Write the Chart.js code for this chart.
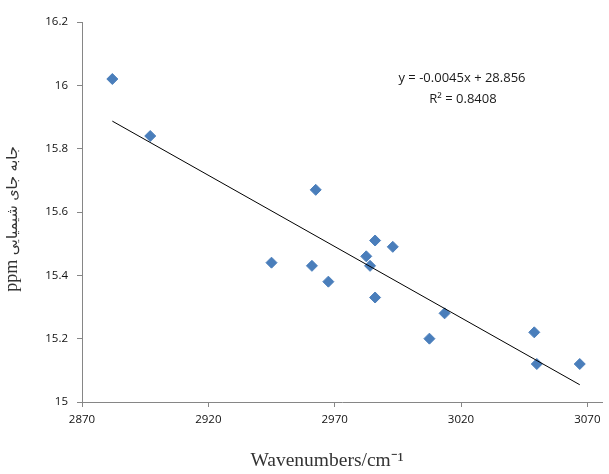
<!DOCTYPE html>
<html>
<head>
<meta charset="utf-8">
<script src="https://cdn.jsdelivr.net/npm/chart.js@4.4.1/dist/chart.umd.min.js"></script>
<style>
  html, body { margin: 0; padding: 0; background: #fff; }
  #mycanvas { display: block; }
</style>
</head>
<body>
<canvas id="mycanvas" width="609" height="474"></canvas>
<script>
// values
var wavenumbers = [2882, 2897, 2945, 2961, 2962.5, 2967.5, 2982.5, 2984, 2986, 2986, 2993, 3007.5, 3013.5, 3049, 3050, 3067];
var shifts = [16.02, 15.84, 15.44, 15.43, 15.67, 15.38, 15.46, 15.43, 15.51, 15.33, 15.49, 15.20, 15.28, 15.22, 15.12, 15.12];
var xTicks = [2870, 2920, 2970, 3020, 3070];
var yTicks = [15, 15.2, 15.4, 15.6, 15.8, 16, 16.2];

// linear trendline as printed on the chart
var slope = -0.0045;
var intercept = 28.856;
var equationText = 'y = -0.0045x + 28.856';
var r2Text = 'R² = 0.8408';
var xTitle = 'Wavenumbers/cm⁻¹';
var yTitleUnit = 'ppm';
var yTitleFa = 'جابه جای شیمیایی';

var points = [];
for (var i = 0; i < wavenumbers.length; i++) {
  points.push({x: wavenumbers[i], y: shifts[i]});
}
var xMin = Math.min.apply(null, wavenumbers);
var xMax = Math.max.apply(null, wavenumbers);
var trend = [
  {x: xMin, y: slope * xMin + intercept},
  {x: xMax, y: slope * xMax + intercept}
];

var textPlugin = {
  id: 'texts',
  afterDraw: function(chart) {
    var ctx = chart.ctx;
    ctx.save();
    // equation
    ctx.fillStyle = '#1a1a1a';
    ctx.font = '13px "Open Sans"';
    ctx.textAlign = 'center';
    ctx.textBaseline = 'middle';
    ctx.fillText(equationText, 462, 78);
    ctx.fillText(r2Text, 463, 99);

    // x title
    ctx.fillStyle = '#333';
    ctx.font = '19.5px "Liberation Serif"';
    ctx.textBaseline = 'alphabetic';
    ctx.fillText(xTitle, 327, 466);

    // y title, rotated
    ctx.translate(17, 219);
    ctx.rotate(-Math.PI / 2);
    ctx.font = '18px "Liberation Serif"';
    var w1 = ctx.measureText(yTitleUnit + ' ').width;
    ctx.font = '14.5px "DejaVu Sans"';
    var w2 = ctx.measureText(yTitleFa).width;
    var start = -(w1 + w2) / 2;
    ctx.textAlign = 'left';
    ctx.font = '18px "Liberation Serif"';
    ctx.fillText(yTitleUnit, start, 0);
    ctx.font = '14.5px "DejaVu Sans"';
    ctx.direction = 'rtl';
    ctx.textAlign = 'right';
    ctx.fillText(yTitleFa, start + w1 + w2, 0);
    ctx.restore();
  }
};

var ctx = document.getElementById('mycanvas');
var chart = new Chart(ctx, {
  type: 'scatter',
  data: {
    datasets: [
      {
        label: 'trend',
        data: trend,
        showLine: true,
        borderColor: '#000',
        borderWidth: 1,
        pointRadius: 0,
        order: 0
      },
      {
        label: 'ppm',
        data: points,
        pointStyle: 'rectRot',
        pointRadius: 5.5,
        pointBackgroundColor: '#4A7EBB',
        pointBorderColor: '#4A7EBB',
        pointBorderWidth: 1,
        order: 1
      }
    ]
  },
  options: {
    responsive: false,
    animation: false,
    layout: { padding: { top: 22, right: 0, bottom: 0, left: 0 } },
    plugins: {
      legend: { display: false },
      tooltip: { enabled: false }
    },
    scales: {
      x: {
        type: 'linear',
        min: 2870,
        max: 3076,
        afterBuildTicks: function(scale) {
          scale.ticks = xTicks.map(function(v) { return {value: v}; });
        },
        afterFit: function(scale) { scale.height = 72; },
        grid: { drawOnChartArea: false, drawTicks: true, tickLength: 5, color: '#868686' },
        border: { display: true, color: '#868686' },
        ticks: {
          padding: 6,
          color: '#111',
          font: { family: 'Open Sans', size: 11.5 },
          maxRotation: 0,
          callback: function(v) { return String(v); }
        }
      },
      y: {
        min: 15,
        max: 16.2,
        afterBuildTicks: function(scale) {
          scale.ticks = yTicks.map(function(v) { return {value: v}; });
        },
        afterFit: function(scale) { scale.width = 82; },
        grid: { drawOnChartArea: false, drawTicks: true, tickLength: 5, color: '#868686' },
        border: { display: true, color: '#868686' },
        ticks: {
          padding: 9,
          color: '#111',
          font: { family: 'Open Sans', size: 11.5 },
          callback: function(v) { return String(Math.round(v * 10) / 10); }
        }
      }
    }
  },
  plugins: [textPlugin]
});
</script>
</body>
</html>
